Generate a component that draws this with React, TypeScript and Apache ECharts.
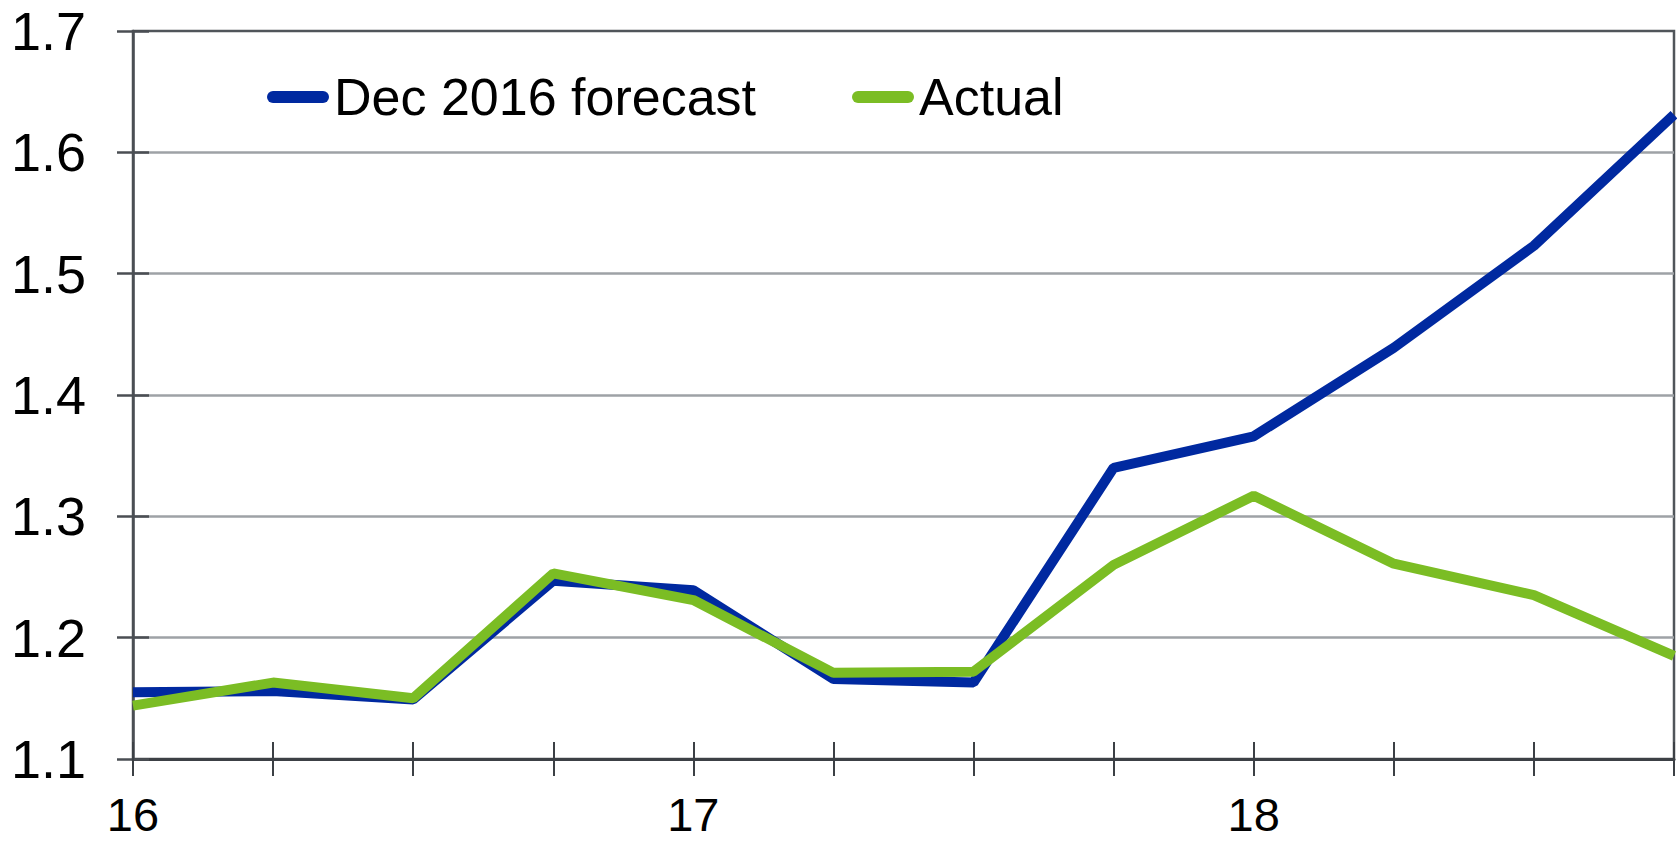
import React, { useEffect, useRef } from "react";
import * as echarts from "echarts";

const categories = ["16", "16Q2", "16Q3", "16Q4", "17", "17Q2", "17Q3", "17Q4", "18", "18Q2", "18Q3", "18Q4"];
const tickLabels = ["16", "", "", "", "17", "", "", "", "18", "", "", ""];
const forecast = [1.155, 1.156, 1.149, 1.247, 1.239, 1.166, 1.163, 1.340, 1.366, 1.439, 1.523, 1.631];
const actual = [1.144, 1.163, 1.150, 1.253, 1.231, 1.171, 1.172, 1.260, 1.317, 1.261, 1.235, 1.185];

const FONT = "'Liberation Sans', Arial, sans-serif";

export default function App() {
  const ref = useRef<HTMLDivElement>(null);
  useEffect(() => {
    if (!ref.current) return;
    const chart = echarts.init(ref.current, null, { renderer: "svg" });
    const icon = "path://M6,0 L56,0 A6,6 0 0 1 56,12 L6,12 A6,6 0 0 1 6,0 Z";
    chart.setOption({
      animation: false,
      backgroundColor: "#ffffff",
      textStyle: { fontFamily: FONT },
      grid: {
        left: 133,
        right: 3,
        top: 31,
        bottom: 84,
        containLabel: false,
        show: true,
        borderColor: "#50555A",
        borderWidth: 2.5,
      },
      legend: {
        left: 262,
        top: 66,
        itemWidth: 62,
        itemHeight: 12,
        itemGap: 96,
        textStyle: { fontFamily: FONT, fontSize: 52, color: "#000" },
        data: [
          { name: "Dec 2016 forecast", icon },
          { name: "Actual", icon },
        ],
      },
      xAxis: [
        {
          type: "category",
          data: categories,
          boundaryGap: false,
          axisLine: { show: true, lineStyle: { color: "#3C4045", width: 3 } },
          axisTick: { show: true, interval: 0, length: 17, lineStyle: { color: "#3C4045", width: 2 } },
          axisLabel: {
            interval: 0,
            margin: 34,
            fontSize: 47,
            lineHeight: 42,
            fontFamily: FONT,
            color: "#000",
            formatter: (_v: string, i: number) => tickLabels[i],
          },
          splitLine: { show: false },
        },
        {
          type: "category",
          data: categories,
          boundaryGap: false,
          position: "bottom",
          axisLine: { show: false },
          axisTick: { show: true, inside: true, interval: 0, length: 17, lineStyle: { color: "#3C4045", width: 2 } },
          axisLabel: { show: false },
          splitLine: { show: false },
        },
      ],
      yAxis: [
        {
          type: "value",
          min: 1.1,
          max: 1.7,
          interval: 0.1,
          axisLine: { show: true, lineStyle: { color: "#4A4E53", width: 2.5 } },
          axisTick: { show: true, length: 16, lineStyle: { color: "#4A4E53", width: 2.5 } },
          axisLabel: {
            margin: 47,
            fontSize: 54,
            fontFamily: FONT,
            color: "#000",
            formatter: (v: number) => v.toFixed(1),
          },
          splitLine: {
            show: true,
            showMinLine: false,
            showMaxLine: false,
            lineStyle: { color: "#9EA2A6", width: 2.5 },
          },
        },
        {
          type: "value",
          min: 1.1,
          max: 1.7,
          interval: 0.1,
          position: "left",
          axisLine: { show: false },
          axisTick: { show: true, inside: true, length: 16, lineStyle: { color: "#4A4E53", width: 2.5 } },
          axisLabel: { show: false },
          splitLine: { show: false },
        },
      ],
      series: [
        {
          name: "Dec 2016 forecast",
          type: "line",
          data: forecast,
          xAxisIndex: 0,
          yAxisIndex: 0,
          symbol: "none",
          color: "#0029A0",
          lineStyle: { color: "#0029A0", width: 10 },
          z: 3,
        },
        {
          name: "Actual",
          type: "line",
          data: actual,
          xAxisIndex: 0,
          yAxisIndex: 0,
          symbol: "none",
          color: "#7BBD24",
          lineStyle: { color: "#7BBD24", width: 10 },
          z: 4,
        },
      ],
    });
    return () => chart.dispose();
  }, []);
  return (
    <div
      ref={ref}
      style={{ position: "absolute", left: 0, top: 0, width: 1677, height: 843 }}
    />
  );
}
